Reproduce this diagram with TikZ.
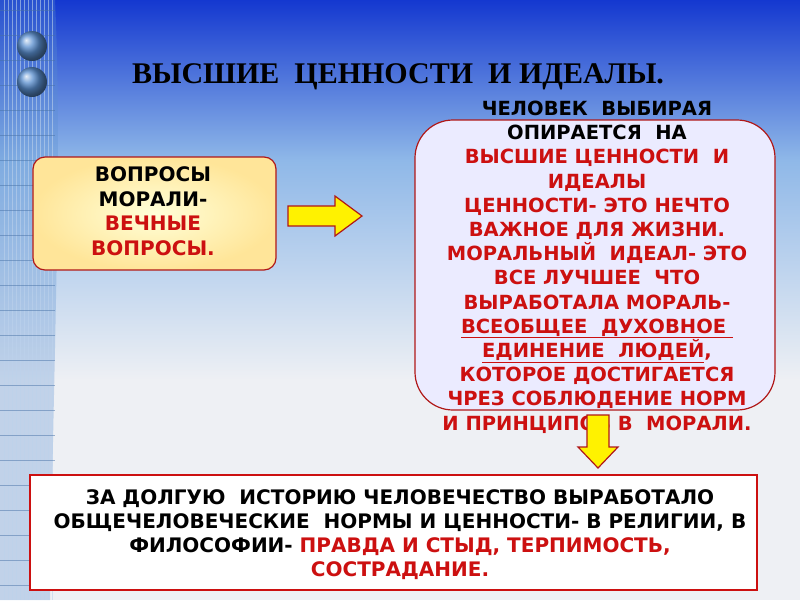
\documentclass[tikz,border=0pt]{standalone}
\usepackage{fontspec}
\setmainfont{DejaVu Sans}
\newfontfamily\titlefont{Liberation Serif}
\definecolor{rd}{HTML}{CC1010}
\definecolor{brd}{HTML}{B01818}
\definecolor{topblue}{HTML}{1438D0}
\definecolor{midblue}{HTML}{8FB8E8}
\definecolor{lowgray}{HTML}{EEF0F4}
\definecolor{deco}{HTML}{5A8FD0}
\tikzset{
  txt/.style={font=\fontsize{20}{24.5}\selectfont\bfseries, align=center, inner sep=0},
  yarrow/.style={draw=brd, line width=1.2pt, fill=yellow, line join=miter}
}
\begin{document}
\begin{tikzpicture}[x=1pt,y=-1pt]
\useasboundingbox (0,0) rectangle (800,600);
\fill[top color=topblue, bottom color=midblue] (0,0) rectangle (800,160);
\fill[top color=midblue, bottom color=lowgray] (0,160) rectangle (800,380);
\fill[lowgray] (0,380) rectangle (800,600);
% left decoration
\fill[deco,opacity=0.3] (0,0) -- (55,0) .. controls (62,150) and (55,300) .. (50,600) -- (0,600) -- cycle;
\foreach \x in {4,8,...,52} \draw[deco!40!white, line width=0.3pt, opacity=0.6] (\x,0) -- (\x,600);
\foreach \y in {10,35,...,600} \draw[deco!80!black, line width=0.4pt, opacity=0.5] (0,\y) -- (55,\y);
\shade[ball color=deco] (32,46) circle (15);
\shade[ball color=deco] (32,82) circle (15);
\node[font=\titlefont\fontsize{30}{34}\selectfont\bfseries, anchor=center] (title) at (398,77) {ВЫСШИЕ \ ЦЕННОСТИ \ И ИДЕАЛЫ.};
% left box
\node[draw=brd, line width=1.2pt, rounded corners=12pt, inner color=yellow!15, outer color=yellow!50!orange!40, minimum width=243pt, minimum height=113pt] (lbox) at (154.5,213.5) {};
\node[txt] (ltext) at (153,211) {ВОПРОСЫ\\МОРАЛИ-\\\textcolor{rd}{ВЕЧНЫЕ}\\\textcolor{rd}{ВОПРОСЫ.}};
% big box
\node[draw=brd, line width=1.2pt, rounded corners=38pt, fill=blue!8!white, minimum width=360pt, minimum height=290pt] (bbox) at (595,265) {};
\node[txt, font=\fontsize{19.5}{24.2}\selectfont\bfseries] (btext) at (597,267) {ЧЕЛОВЕК \ ВЫБИРАЯ\\ОПИРАЕТСЯ \ НА\\\color{rd}ВЫСШИЕ ЦЕННОСТИ \ И\\\color{rd}ИДЕАЛЫ\\\color{rd}ЦЕННОСТИ- ЭТО НЕЧТО\\\color{rd}ВАЖНОЕ ДЛЯ ЖИЗНИ.\\\color{rd}МОРАЛЬНЫЙ \ ИДЕАЛ- ЭТО\\\color{rd}ВСЕ ЛУЧШЕЕ \ ЧТО\\\color{rd}ВЫРАБОТАЛА МОРАЛЬ-\\\color{rd}\underline{ВСЕОБЩЕЕ \ ДУХОВНОЕ\ }\\\color{rd}\underline{ЕДИНЕНИЕ \ ЛЮДЕЙ},\\\color{rd}КОТОРОЕ ДОСТИГАЕТСЯ\\\color{rd}ЧРЕЗ СОБЛЮДЕНИЕ НОРМ\\\color{rd}И ПРИНЦИПОВ В \ МОРАЛИ.};
% arrows
\draw[yarrow] (288,206) -- (335,206) -- (335,196) -- (362,216) -- (335,236) -- (335,226) -- (288,226) -- cycle;
\draw[yarrow] (587,415) -- (609,415) -- (609,447) -- (618,447) -- (598,468) -- (578,447) -- (587,447) -- cycle;
% bottom box
\node[draw=rd, line width=1.2pt, fill=white, minimum width=727pt, minimum height=115pt] (botbox) at (393.5,532.5) {};
\node[txt, font=\fontsize{20}{24}\selectfont\bfseries] (bottext) at (400,535) {ЗА ДОЛГУЮ \ ИСТОРИЮ ЧЕЛОВЕЧЕСТВО ВЫРАБОТАЛО\\ОБЩЕЧЕЛОВЕЧЕСКИЕ \ НОРМЫ И ЦЕННОСТИ- В РЕЛИГИИ, В\\ФИЛОСОФИИ- \textcolor{rd}{ПРАВДА И СТЫД, ТЕРПИМОСТЬ,}\\\textcolor{rd}{СОСТРАДАНИЕ.}};
\end{tikzpicture}
\end{document}
